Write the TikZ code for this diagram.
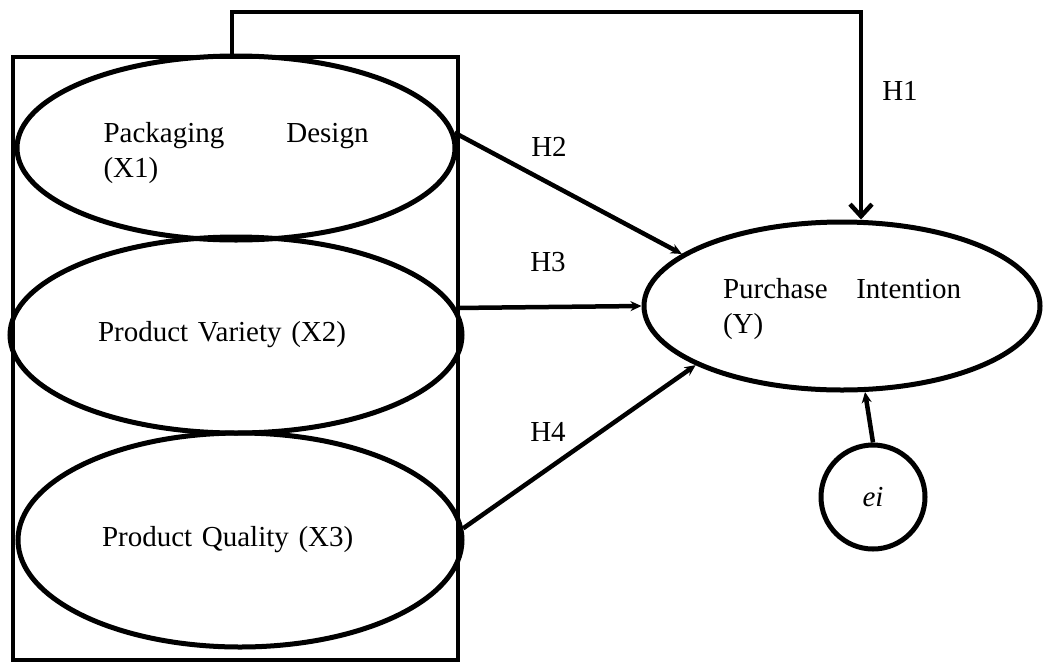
\documentclass[tikz,border=0pt]{standalone}
\usepackage{fontspec}
\setmainfont{Liberation Serif}
\usetikzlibrary{arrows.meta, shapes.geometric}
\tikzset{
  construct/.style = {ellipse, draw=black, line width=5pt, inner sep=0pt,
    font=\fontsize{29}{35}\selectfont},
  errnode/.style = {construct, circle, minimum size=104pt},
  frame/.style = {draw=black, line width=4pt, inner sep=0pt,
    minimum width=445pt, minimum height=603pt},
  hyp/.style = {inner sep=0pt, font=\fontsize{29}{35}\selectfont},
  link/.style = {line width=4.5pt, -{Stealth[length=11pt, width=10pt]}},
  direct/.style = {line width=4.5pt, -{Straight Barb[length=12pt, width=22pt]}}
}

\begin{document}
\begin{tikzpicture}[x=1pt, y=-1pt]
\useasboundingbox (0,0) rectangle (1043,662);
% exogenous constructs inside the box
\node [frame] (box) at (235.5,358) {};
\node [construct, minimum width=438pt, minimum height=184pt,
  text width=265pt, text height=31pt, align=left] (pack) at (236,148)
  {Packaging\hfill Design\\(X1)};
\node [construct, minimum width=452pt, minimum height=196pt,
  text width=276pt, align=left] (variety) at (236,335)
  {Product Variety (X2)};
\node [construct, minimum width=444pt, minimum height=214pt,
  text width=276pt, align=left] (quality) at (240,540)
  {Product Quality (X3)};
% endogenous construct and error
\node [construct, minimum width=396pt, minimum height=168pt,
  text width=238pt, text height=27pt, align=left] (intent) at (842,306)
  {Purchase\hfill Intention\\(Y)};
\node [errnode] (err) at (873,497) {\itshape ei};

% hypotheses
\coordinate (rise) at (232,12);
\coordinate (bend) at (861,12);
\draw [direct] (rise |- box.north) -- (rise) -| (bend |- intent.north);
\draw [link] (pack.4) -- (intent.162);
\draw [link] (variety.7) -- (intent.west);
\draw [link] (quality.3) -- (intent.202);
\draw [link] (err.north) -- (intent.285);

\node [hyp] (h1) at (900,91) {H1};
\node [hyp] (h2) at (549,147) {H2};
\node [hyp] (h3) at (548,262) {H3};
\node [hyp] (h4) at (548,432) {H4};
\end{tikzpicture}
\end{document}
